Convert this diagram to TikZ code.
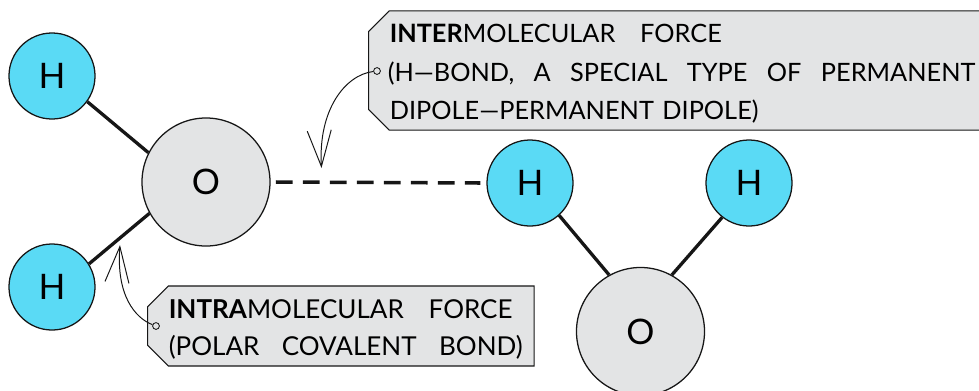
\documentclass[tikz,border=0pt]{standalone}
\usepackage{fontspec}
\setmainfont{Lato}
\usetikzlibrary{arrows.meta, shapes.misc}
\definecolor{hblue}{HTML}{5ADAF5}
\definecolor{ogrey}{HTML}{E3E4E5}
\definecolor{inkline}{HTML}{161616}
\newcommand{\gapw}{\hspace{0.485cm}}
\newcommand{\gapmid}{\hspace{0.56cm}}
\newcommand{\gapwide}{\hspace{0.62cm}}
\newcommand{\upstrut}{\rule{0pt}{0.86em}}
\tikzset{
    hatom/.style={circle, draw=inkline, line width=0.9pt, fill=hblue, minimum size=2.15cm, inner sep=0pt, font=\fontsize{25}{25}\selectfont},
    oatom/.style={circle, draw=inkline, line width=0.9pt, fill=ogrey, minimum size=3.2cm, inner sep=0pt, font=\fontsize{25}{25}\selectfont},
    bondline/.style={line width=2.35pt, draw=inkline},
    hbond/.style={line width=2.5pt, draw=inkline, dash pattern=on 0.42cm off 0.255cm},
    forcebox/.style={chamfered rectangle, chamfered rectangle corners={north west, south west}, chamfered rectangle xsep=0.26cm, chamfered rectangle ysep=0.26cm, draw=inkline, line width=0.8pt, fill=ogrey, inner ysep=0pt, inner xsep=0.27cm, align=left},
    pindot/.style={circle, draw=inkline, line width=0.6pt, fill=ogrey, minimum size=0.17cm, inner sep=0pt},
    calloutline/.style={line width=0.7pt, draw=inkline, -{Straight Barb[length=0.9cm, width=0.6cm]}}
}
\begin{document}
\begin{tikzpicture}[x=0.025cm, y=-0.025cm]
    \useasboundingbox (0,0) rectangle (979,390);
    \node[hatom] (hone) at (52,76) {H};
    \node[hatom] (htwo) at (52,287) {H};
    \node[oatom] (oleft) at (206,182) {O};
    \node[hatom] (hthree) at (530,183) {H};
    \node[hatom] (hfour) at (749,183) {H};
    \node[oatom] (oright) at (640.5,331.5) {O};
    \draw[bondline] (hone.-36) -- (oleft.153);
    \draw[bondline] (htwo.32) -- (oleft.209);
    \draw[bondline] (hthree.-48) -- (oright.119);
    \draw[bondline] (hfour.232) -- (oright.61);
    \draw[hbond] ([xshift=0.13cm]oleft.east) -- ([xshift=-0.15cm]hthree.west);
    \node[forcebox, anchor=west, text width=15cm, font=\fontsize{18}{27.3}\selectfont] (interbox) at (368,70.5) {%
        \upstrut\textbf{INTER}MOLECULAR\gapwide FORCE\\
        \hspace{-0.05cm}(H---BOND,\gapw A\gapw SPECIAL\gapw TYPE\gapw OF\gapw PERMANENT\\
        \smash{DIPOLE---PERMANENT DIPOLE)}};
    \node[forcebox, anchor=west, text width=8.6cm, font=\fontsize{18.5}{26.2}\selectfont] (intrabox) at (147,326) {%
        \mbox{\upstrut\textbf{INTRA}MOLECULAR\gapwide FORCE}\\
        \smash{\mbox{(POLAR\gapmid COVALENT\gapmid BOND)}}};
    \node[pindot] (interpin) at (377,71) {};
    \node[pindot] (intrapin) at (156,326) {};
    \coordinate (intertip) at (321.5,168);
    \coordinate (intratip) at (120,245);
    \draw[calloutline] (interpin) .. controls (345,75) and (318,110) .. (intertip);
    \draw[calloutline] (intrapin) .. controls (135,318) and (116,295) .. (intratip);
\end{tikzpicture}
\end{document}
